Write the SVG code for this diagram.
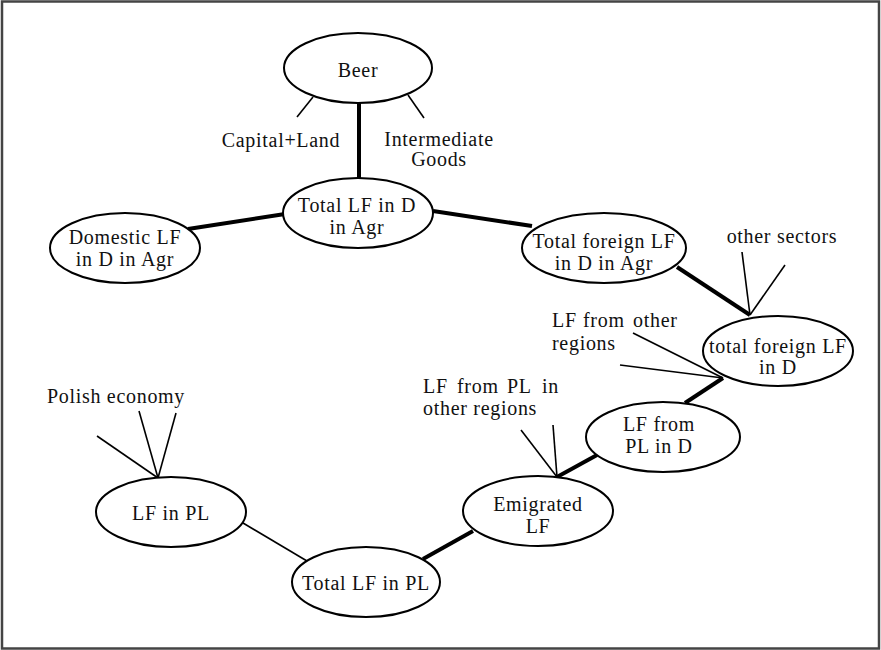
<svg xmlns="http://www.w3.org/2000/svg" width="881" height="650" viewBox="0 0 881 650">
<style>
.n ellipse{fill:#fff;stroke:#000;stroke-width:2}
text{font-family:"Liberation Serif","Times New Roman",serif;font-size:20px;letter-spacing:0.7px;fill:#111}
.m{text-anchor:middle}
.thin{stroke:#000;stroke-width:1.6;fill:none}
.thick{stroke:#000;stroke-width:4;fill:none}
</style>
<rect x="2" y="1.5" width="877" height="647" fill="#fff" stroke="#444" stroke-width="2.5"/>
<g id="connectors">
<line class="thick" x1="359" y1="103" x2="359" y2="179"/>
<line class="thick" x1="188" y1="229" x2="285" y2="214"/>
<line class="thick" x1="433" y1="211" x2="532" y2="226"/>
<line class="thick" x1="677" y1="267" x2="750" y2="315"/>
<line class="thick" x1="723" y1="378" x2="685" y2="403"/>
<line class="thick" x1="597" y1="455" x2="557" y2="477"/>
<line class="thick" x1="473" y1="531" x2="423" y2="559"/>
<line class="thin" x1="243" y1="523" x2="307" y2="561"/>
<line class="thin" x1="313" y1="97" x2="297" y2="117"/>
<line class="thin" x1="408" y1="95" x2="424" y2="118"/>
<line class="thin" x1="742" y1="252" x2="750" y2="315"/>
<line class="thin" x1="785" y1="265" x2="750" y2="315"/>
<line class="thin" x1="633" y1="333" x2="723" y2="378"/>
<line class="thin" x1="620" y1="365" x2="723" y2="378"/>
<line class="thin" x1="521" y1="430" x2="557" y2="477"/>
<line class="thin" x1="553" y1="425" x2="557" y2="477"/>
<line class="thin" x1="97" y1="436" x2="158" y2="478"/>
<line class="thin" x1="139" y1="411" x2="158" y2="478"/>
<line class="thin" x1="176" y1="413" x2="158" y2="478"/>
</g>
<g id="beer" class="n"><ellipse cx="358" cy="68" rx="74" ry="35"/><text class="m" x="358" y="77">Beer</text></g>
<g id="total-lf-d-agr" class="n"><ellipse cx="358" cy="213" rx="75" ry="35"/><text class="m" x="357" y="212">Total LF in D</text><text class="m" x="357" y="234">in Agr</text></g>
<g id="domestic-lf" class="n"><ellipse cx="125" cy="248" rx="75" ry="35"/><text class="m" x="125" y="244">Domestic LF</text><text class="m" x="125" y="266">in D in Agr</text></g>
<g id="total-foreign-agr" class="n"><ellipse cx="604" cy="248" rx="82" ry="35"/><text class="m" x="604" y="248">Total foreign LF</text><text class="m" x="604" y="270">in D in Agr</text></g>
<g id="total-foreign-d" class="n"><ellipse cx="778" cy="351" rx="75" ry="35"/><text class="m" x="778" y="353">total foreign LF</text><text class="m" x="778" y="374">in D</text></g>
<g id="lf-pl-d" class="n"><ellipse cx="663" cy="437" rx="77" ry="35"/><text class="m" x="659" y="431">LF from</text><text class="m" x="659" y="453">PL in D</text></g>
<g id="emigrated" class="n"><ellipse cx="538" cy="511" rx="75" ry="35"/><text class="m" x="538" y="511">Emigrated</text><text class="m" x="538" y="533">LF</text></g>
<g id="total-lf-pl" class="n"><ellipse cx="366" cy="582" rx="74" ry="35"/><text class="m" x="366" y="590">Total LF in PL</text></g>
<g id="lf-in-pl" class="n"><ellipse cx="171" cy="512" rx="75" ry="35"/><text class="m" x="171" y="520">LF in PL</text></g>
<g id="labels">
<text class="m" x="281" y="147">Capital+Land</text>
<text class="m" y="146"><tspan x="439">Intermediate</tspan><tspan x="439" dy="20">Goods</tspan></text>
<text class="m" x="782" y="243">other sectors</text>
<text y="327"><tspan x="552">LF</tspan><tspan x="583">from</tspan><tspan x="633">other</tspan><tspan x="552" dy="23">regions</tspan></text>
<text y="393"><tspan x="423">LF</tspan><tspan x="457">from</tspan><tspan x="507">PL</tspan><tspan x="542">in</tspan><tspan x="423" dy="22">other regions</tspan></text>
<text class="m" x="116" y="403">Polish economy</text>
</g>
</svg>
